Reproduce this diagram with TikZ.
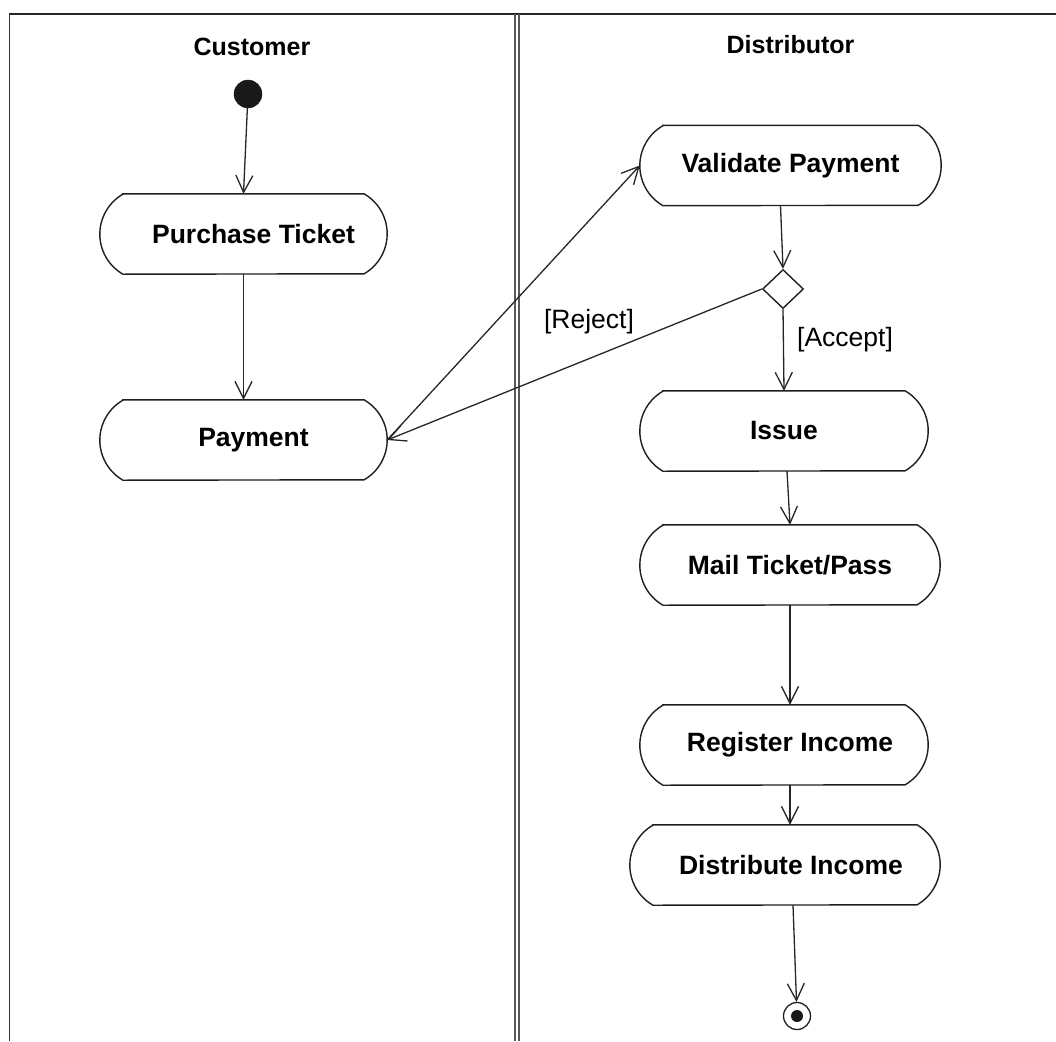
\documentclass[tikz,border=0pt]{standalone}
\usepackage{fontspec}
\setmainfont{Liberation Sans}
\usetikzlibrary{arrows.meta,calc,shapes.geometric}

\tikzset{
  ink/.style={draw=black!88, line width=1.4pt},
  actbox/.style={rectangle, draw=none, minimum height=80pt, inner sep=0pt},
  acttext/.style={font=\fontsize{26.5}{30}\selectfont\bfseries, inner sep=0pt},
  lanetitle/.style={font=\fontsize{25}{29}\selectfont\bfseries, inner sep=0pt},
  guard/.style={font=\fontsize{26.5}{30}\selectfont, inner sep=0pt},
  flow/.style={draw=black!85, line width=1.3pt,
    -{Straight Barb[length=17pt,width=17pt]}},
  lane/.style={draw=black!65, line width=1.4pt},
}

% activity: name, x, y, half width, text, text shift
\newcommand{\activity}[6]{%
  \node[actbox, minimum width=2*#4pt] (#1) at (#2pt,#3pt) {};
  \node[acttext] (#1-t) at ($(#1)+(#6pt,0)$) {#5};
  \draw[ink] ($(#1.north west)+(23.1pt,0)$) -- ($(#1.north east)+(-23.1pt,0)$)
    arc[start angle=60, end angle=-60, radius=46.19pt]
    -- ($(#1.south west)+(23.1pt,0)$)
    arc[start angle=240, end angle=120, radius=46.19pt] -- cycle;
}

\begin{document}
\begin{tikzpicture}[x=1pt,y=1pt]
  \useasboundingbox (0,0) rectangle (1056,-1041);

  % swimlane frame
  \draw[draw=black!85, line width=2pt] (9,-14) -- (1056,-14);
  \draw[draw=black!80, line width=1.5pt] (9.5,-14) -- (9.5,-1041);
  \draw[lane] (515,-14) -- (515,-1041);
  \draw[lane] (519,-14) -- (519,-1041);

  \node[lanetitle] (cust) at (252,-47) {Customer};
  \node[lanetitle] (dist-title) at (790.5,-45) {Distributor};

  % start and end
  \node[circle, fill=black!90, draw=black!90, minimum size=28pt, inner sep=0pt] (start) at (248,-94) {};
  \node[circle, draw=black!88, line width=1.3pt, minimum size=27pt, inner sep=0pt] (end) at (797,-1016) {};
  \node[circle, fill=black!90, minimum size=12pt, inner sep=0pt] (end-dot) at (797,-1016) {};

  % activities
  \activity{pt}{243.5}{-234}{143.5}{Purchase Ticket}{10}
  \activity{pay}{243.5}{-440}{143.5}{Payment}{10}
  \activity{val}{790.5}{-165.5}{150.5}{Validate Payment}{0}
  \activity{iss}{784}{-431}{144}{Issue}{0}
  \activity{mail}{790}{-565}{150}{Mail Ticket/Pass}{0}
  \activity{reg}{784}{-745}{144}{Register Income}{6}
  \activity{dist}{785}{-865}{155}{Distribute Income}{6}

  % decision
  \node[diamond, ink, minimum width=41pt, minimum height=39pt, inner sep=0pt] (dec) at (783,-289) {};

  % guards
  \node[guard] (rej) at (589,-322) {[Reject]};
  \node[guard] (acc) at (845,-340) {[Accept]};

  % flows
  \draw[flow] (start) -- (pt.north);
  \draw[flow] (pt.south) -- (pay.north);
  \draw[flow] (pay.east) -- (val.west);
  \draw[flow] (dec.west) -- (pay.east);
  \draw[flow] ($(val.south)+(-10,0)$) -- (dec.north);
  \draw[flow] (dec.south) -- (iss.north);
  \draw[flow] ($(iss.south)+(3,0)$) -- (mail.north);
  \draw[flow] (mail.south) -- (mail.south |- reg.north);
  \draw[flow] (reg.south -| mail.south) -- (mail.south |- dist.north);
  \draw[flow] ($(dist.south)+(8,0)$) -- (end);
\end{tikzpicture}
\end{document}
